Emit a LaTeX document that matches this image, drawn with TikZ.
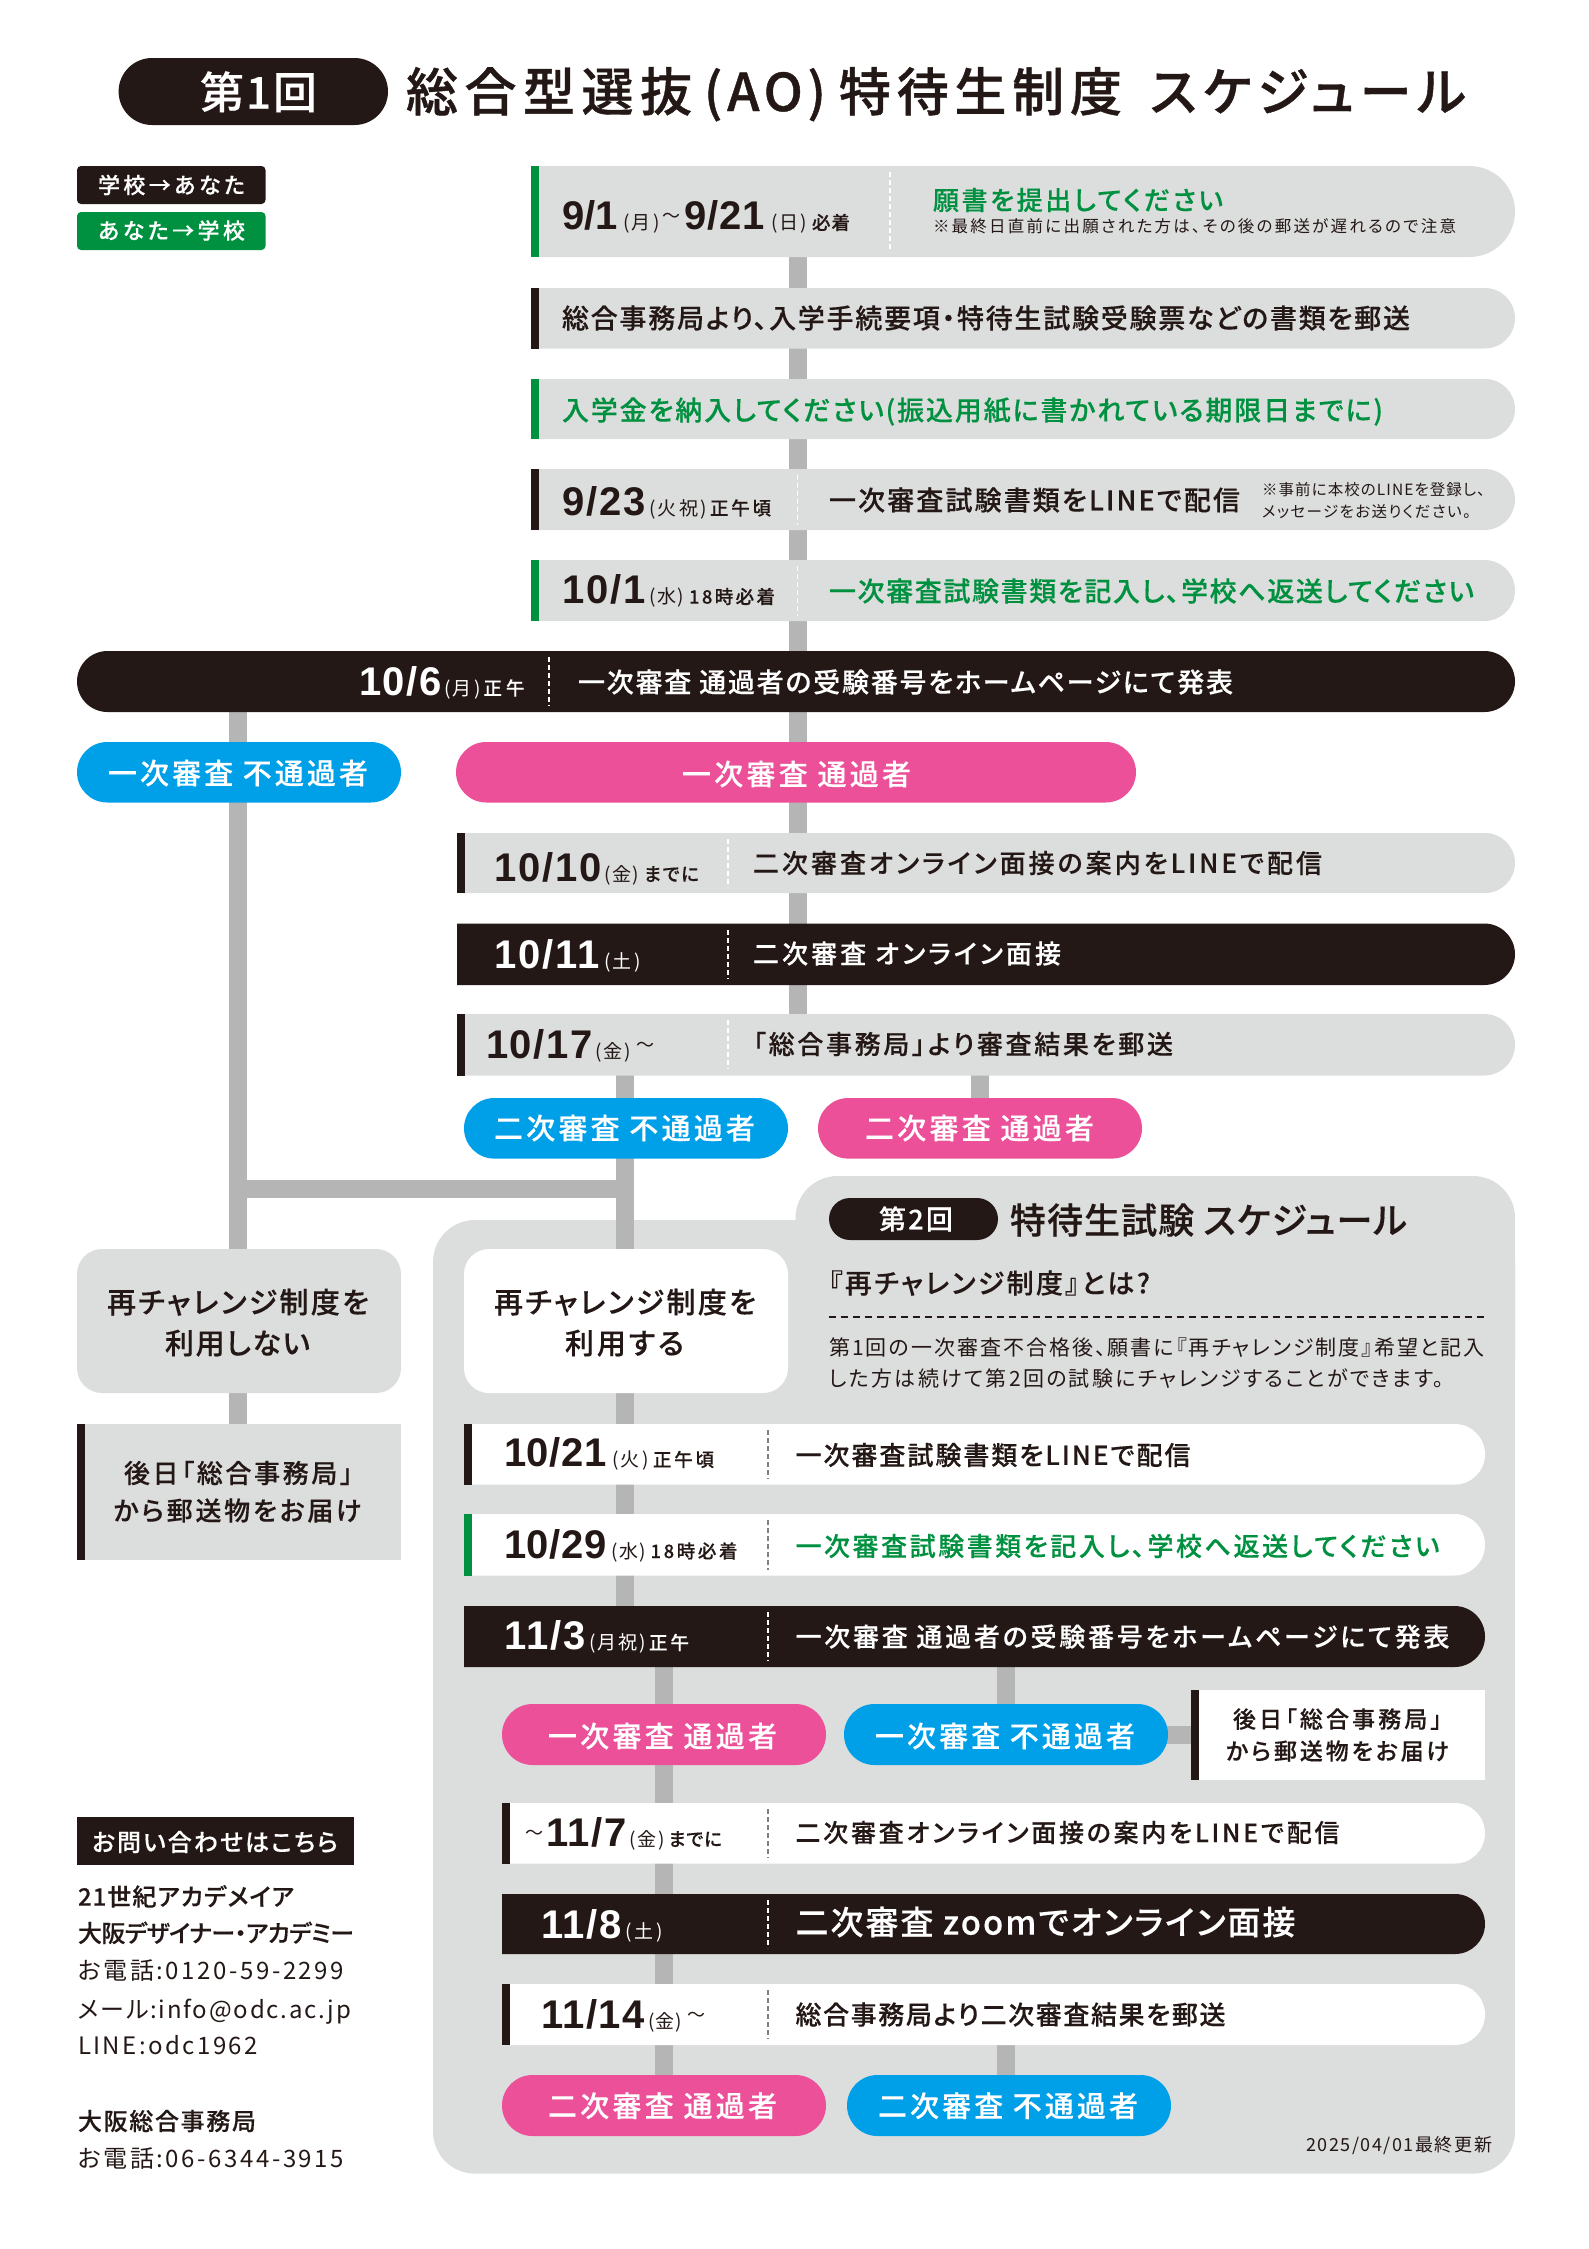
\documentclass[tikz,border=0pt]{standalone}
\usepackage{fontspec}
\setmainfont{Noto Sans CJK JP}[RawFeature=+palt]
\newfontfamily\jm{Noto Sans CJK JP Medium}[RawFeature=+palt,FakeBold=0.3]
\newfontfamily\jt{Noto Sans CJK JP Medium}[RawFeature=+palt,FakeBold=0.8]
\newfontfamily\dgf{Liberation Sans}
\usetikzlibrary{shapes.misc}
\pgfdeclarelayer{panelL}\pgfdeclarelayer{connL}\pgfsetlayers{panelL,connL,main}
\definecolor{ink}{HTML}{231815}\definecolor{gn}{HTML}{009140}\definecolor{gy}{HTML}{DCDDDD}
\definecolor{cn}{HTML}{B5B5B6}\definecolor{pk}{HTML}{EC5098}\definecolor{bl}{HTML}{00A0E9}
\definecolor{dv}{HTML}{808080}
\ExplSyntaxOn
\cs_new:Npn \mycount #1 { \tl_count:n {#1} }
\ExplSyntaxOff
\newcommand\fitx[3]{\begingroup\fontsize{#2}{#2}\selectfont
  \setbox0=\hbox{#3}\edef\wn{\the\wd0}\edef\cnt{\mycount{#3}}%
  \pgfmathsetmacro\lsv{max(-25,min(70,(#1-\wn)/max(1,\cnt-1)/#2*100))}%
  \addfontfeature{LetterSpace=\lsv}#3\endgroup}
\tikzset{
  rowshape/.style={rounded rectangle,rounded rectangle west arc=none,inner sep=0,outer sep=0},
  pillshape/.style={rounded rectangle,inner sep=0,outer sep=0},
  barshape/.style={rectangle,inner sep=0,outer sep=0,minimum width=8pt},
  softbox/.style={rectangle,inner sep=0,outer sep=0},
  txt/.style={inner sep=0,outer sep=0,anchor=base west},
  conn/.style={draw=cn,line width=18pt},
  sepline/.style={line width=1.2pt,white,dash pattern=on 5pt off 3pt},
  sepdark/.style={line width=1.2pt,dv,dash pattern=on 5pt off 3pt},
}
\newcommand\rowbox[7]{\node[rowshape,fill=#6,minimum width={(#4-#2)*1pt},minimum height={(#5-#3)*1pt}] (#1) at ({(#2+#4)/2},{(#3+#5)/2}) {};
  \node[barshape,fill=#7,anchor=north west,minimum height={(#5-#3)*1pt}] (#1bar) at (#2,#3) {};}
\newcommand\pill[6]{\node[pillshape,fill=#6,minimum width={(#4-#2)*1pt},minimum height={(#5-#3)*1pt}] (#1) at ({(#2+#4)/2},{(#3+#5)/2}) {};}
\newcommand\softb[7]{\node[softbox,fill=#6,rounded corners=#7,minimum width={(#4-#2)*1pt},minimum height={(#5-#3)*1pt}] (#1) at ({(#2+#4)/2},{(#3+#5)/2}) {};}
\newcommand\tx[7]{\node[txt,text=#6] (#1) at (#2,{#3+.38*#5}) {\jm\fitx{#4}{#5}{#7}};}
\newcommand\txr[7]{\node[txt,text=#6] (#1) at (#2,{#3+.38*#5}) {\fitx{#4}{#5}{#7}};}
\newcommand\dt[5]{\node[txt,text=#4] (#1) at (#2,#3) {#5};}
\newcommand\dbg[2]{{\dgf\bfseries\fitx{#1+2}{40}{#2}}\kern-1.5pt\relax}
\newcommand\dsm[2]{\fitx{#1}{19}{#2}}
\newcommand\dsb[2]{{\jm\fitx{#1}{18.5}{#2}}}
\newcommand\wv{\raisebox{7pt}{\fontsize{18}{18}\selectfont 〜}}
\newcommand\gp[1]{\kern#1pt\relax}
\newcommand\sepl[3]{\draw[sepline] (#1,#2) -- (#1,#3);}
\newcommand\sepd[3]{\draw[sepdark] (#1,#2) -- (#1,#3);}
\begin{document}
\begin{tikzpicture}[x=1pt,y=-1pt]
\useasboundingbox (0,0) rectangle (1589,2249);
% title
\pill{titlepill}{118.6}{58}{388}{125}{ink}
\tx{titlenum}{200}{92}{117}{44}{white}{第1回}
\node[txt,text=ink] (titlemain) at (406,111) {\jt\fitx{286}{52}{総合型選抜}\gp{12}\fitx{122}{52}{(AO)}\gp{13}\fitx{283}{52}{特待生制度}\gp{28}\fitx{316}{52}{スケジュール}};
% legend
\softb{legA}{77}{166}{265.5}{204}{ink}{4pt}
\softb{legB}{77}{212}{265.5}{250}{gn}{4pt}
\tx{legAt}{98}{185}{147}{22}{white}{学校→あなた}
\tx{legBt}{98}{230.5}{147}{22}{white}{あなた→学校}
% first block
\rowbox{rowA}{531}{166}{1515}{257}{gy}{gn}
\sepl{890}{172}{252}
\dt{rowAd}{562}{229.5}{ink}{\dbg{54}{9/1}\gp{7}\dsm{36}{(月)}\gp{3}\wv\gp{4}\dbg{78}{9/21}\gp{8}\dsm{36}{(日)}\gp{5}\dsb{38}{必着}}
\tx{rowAm}{933}{200}{290}{26}{gn}{願書を提出してください}
\txr{rowAs}{933}{226}{523}{16.5}{ink}{※最終日直前に出願された方は、その後の郵送が遅れるので注意}
\rowbox{rowB}{531}{288}{1515}{348.5}{gy}{ink}
\tx{rowBm}{562}{318}{848}{27}{ink}{総合事務局より、入学手続要項・特待生試験受験票などの書類を郵送}
\rowbox{rowC}{531}{379}{1515}{439}{gy}{gn}
\tx{rowCm}{562}{410}{821}{27}{gn}{入学金を納入してください(振込用紙に書かれている期限日までに)}
\rowbox{rowD}{531}{469}{1515}{530}{gy}{ink}
\sepl{797.5}{475}{525}
\dt{rowDd}{562}{515}{ink}{\dbg{82}{9/23}\gp{4.5}\dsm{58}{(火祝)}\gp{3}\dsb{61}{正午頃}}
\tx{rowDm}{829}{500}{411}{27}{ink}{一次審査試験書類をLINEで配信}
\txr{rowDn}{1262}{490}{223}{15.5}{ink}{※事前に本校のLINEを登録し、}
\txr{rowDo}{1262}{512}{209}{15.5}{ink}{メッセージをお送りください。}
\rowbox{rowE}{531}{560}{1515}{621}{gy}{gn}
\sepl{797.5}{566}{616}
\dt{rowEd}{562}{603.6}{ink}{\dbg{82}{10/1}\gp{4.5}\dsm{35}{(水)}\gp{5}\dsb{86}{18時必着}}
\tx{rowEm}{829}{591}{645}{27}{gn}{一次審査試験書類を記入し、学校へ返送してください}
\pill{rowF}{77}{651}{1515}{712}{ink}
\sepl{549}{657}{706}
\dt{rowFd}{359}{695}{white}{\dbg{81}{10/6}\gp{4}\dsm{36}{(月)}\gp{3}\dsb{41}{正午}}
\tx{rowFm}{578}{682}{655}{27}{white}{一次審査 通過者の受験番号をホームページにて発表}
% split
\pill{failA}{77}{742}{401}{802.5}{bl}
\tx{failAt}{108}{773}{260}{29}{white}{一次審査 不通過者}
\pill{passA}{456}{742}{1136}{802.5}{pk}
\tx{passAt}{682}{774}{229}{29}{white}{一次審査 通過者}
\rowbox{rowG}{457}{833}{1515}{893}{gy}{ink}
\sepl{728}{839}{887}
\dt{rowGd}{494}{881}{ink}{\dbg{106}{10/10}\gp{4}\dsm{34.5}{(金)}\gp{5}\dsb{55}{までに}}
\tx{rowGm}{753}{863}{569}{26}{ink}{二次審査オンライン面接の案内をLINEで配信}
\node[rowshape,fill=ink,minimum width=1058pt,minimum height=61.5pt] (rowH) at (986,954.25) {};
\sepl{728}{930}{979}
\dt{rowHd}{494}{968}{white}{\dbg{104}{10/11}\gp{6}\dsm{36}{(土)}}
\tx{rowHm}{753}{953.5}{308}{26}{white}{二次審査 オンライン面接}
\rowbox{rowI}{457}{1014}{1515}{1075.5}{gy}{ink}
\sepl{728}{1020}{1069}
\dt{rowId}{486}{1058.5}{ink}{\dbg{105}{10/17}\gp{4}\dsm{35}{(金)}\gp{6}\wv}
\tx{rowIm}{753}{1044}{420}{26}{ink}{「総合事務局」より審査結果を郵送}
\pill{failB}{464}{1098}{788}{1158.6}{bl}
\tx{failBt}{494}{1128}{261}{29}{white}{二次審査 不通過者}
\pill{passB}{818}{1098}{1142}{1158.6}{pk}
\tx{passBt}{865}{1128}{229}{29}{white}{二次審査 通過者}
% left column
\softb{noRe}{77}{1249}{401}{1393}{gy}{25pt}
\tx{noReA}{107}{1302}{262}{29}{ink}{再チャレンジ制度を}
\tx{noReB}{165}{1343}{145}{29}{ink}{利用しない}
\softb{mailL}{77}{1424}{401}{1560}{gy}{0pt}
\node[barshape,fill=ink,anchor=north west,minimum height=136pt] (mailLbar) at (77,1424) {};
\tx{mailLa}{124}{1473}{229}{26}{ink}{後日「総合事務局」}
\tx{mailLb}{113.5}{1510.5}{248}{26}{ink}{から郵送物をお届け}
% panel
\begin{pgfonlayer}{panelL}
\fill[gy,rounded corners=42pt] (433,1220) rectangle (1515,2173.6);
\fill[gy,rounded corners=42pt] (795.5,1176) rectangle (1515,1400);
\end{pgfonlayer}
\softb{yesRe}{464}{1249}{788}{1393}{white}{25pt}
\tx{yesReA}{494}{1302}{262}{29}{ink}{再チャレンジ制度を}
\tx{yesReB}{565}{1343}{119}{29}{ink}{利用する}
\pill{subpill}{829}{1198}{998}{1240}{ink}
\tx{subpillt}{879}{1219}{74}{27}{white}{第2回}
\tx{subtitle}{1010}{1220}{397}{36}{ink}{特待生試験 スケジュール}
\tx{whatq}{829}{1283}{321}{27}{ink}{『再チャレンジ制度』とは?}
\draw[ink,line width=1.3pt,dash pattern=on 7pt off 5pt] (829,1317) -- (1485,1317);
\txr{whatA}{829}{1348}{656}{21}{ink}{第1回の一次審査不合格後、願書に『再チャレンジ制度』希望と記入}
\txr{whatB}{829}{1379}{615}{21}{ink}{した方は続けて第2回の試験にチャレンジすることができます。}
\rowbox{rowJ}{464}{1424}{1485}{1484.5}{white}{ink}
\sepd{768}{1430}{1479}
\dt{rowJd}{504}{1466.5}{ink}{\dbg{101}{10/21}\gp{7}\dsm{36}{(火)}\gp{4.5}\dsb{61}{正午頃}}
\tx{rowJm}{795.5}{1455}{395}{26}{ink}{一次審査試験書類をLINEで配信}
\rowbox{rowK}{464}{1514}{1485}{1575.5}{white}{gn}
\sepd{768}{1520}{1570}
\dt{rowKd}{504}{1558}{ink}{\dbg{101}{10/29}\gp{6}\dsm{34.5}{(水)}\gp{4.5}\dsb{87}{18時必着}}
\tx{rowKm}{795.5}{1546}{644}{26}{gn}{一次審査試験書類を記入し、学校へ返送してください}
\node[rowshape,fill=ink,minimum width=1021pt,minimum height=61pt] (rowL) at (974.5,1636.5) {};
\sepl{768}{1612}{1661}
\dt{rowLd}{504}{1649.5}{white}{\dbg{80}{11/3}\gp{5}\dsm{56}{(月祝)}\gp{3.5}\dsb{40}{正午}}
\tx{rowLm}{795.5}{1636.6}{654}{26}{white}{一次審査 通過者の受験番号をホームページにて発表}
\pill{passC}{502}{1704}{826}{1765}{pk}
\tx{passCt}{548}{1736}{229}{29}{white}{一次審査 通過者}
\pill{failC}{844}{1704}{1168}{1765}{bl}
\tx{failCt}{875}{1736}{260}{29}{white}{一次審査 不通過者}
\softb{mailR}{1191}{1690}{1485}{1780}{white}{0pt}
\node[barshape,fill=ink,anchor=north west,minimum height=90pt] (mailRbar) at (1191,1690) {};
\tx{mailRa}{1233}{1719}{209}{23}{ink}{後日「総合事務局」}
\tx{mailRb}{1226}{1751}{223}{23}{ink}{から郵送物をお届け}
\rowbox{rowM}{502}{1803}{1485}{1863.5}{white}{ink}
\sepd{768}{1809}{1858}
\dt{rowMd}{525}{1846}{ink}{\wv\gp{3}\dbg{79}{11/7}\gp{4}\dsm{35}{(金)}\gp{4}\dsb{53.5}{までに}}
\tx{rowMm}{795.5}{1832.5}{544}{25}{ink}{二次審査オンライン面接の案内をLINEで配信}
\node[rowshape,fill=ink,minimum width=983pt,minimum height=60pt] (rowN) at (993.5,1924) {};
\sepl{768}{1900}{1948}
\dt{rowNd}{541}{1938}{white}{\dbg{79}{11/8}\gp{5}\dsm{37}{(土)}}
\tx{rowNm}{795.5}{1922}{500}{33}{white}{二次審査 zoomでオンライン面接}
\rowbox{rowO}{502}{1984}{1485}{2045}{white}{ink}
\sepd{768}{1990}{2039}
\dt{rowOd}{541}{2028}{ink}{\dbg{102}{11/14}\gp{5}\dsm{33}{(金)}\gp{6}\wv}
\tx{rowOm}{795.5}{2014.5}{430}{26}{ink}{総合事務局より二次審査結果を郵送}
\pill{passD}{502}{2075}{826}{2136}{pk}
\tx{passDt}{548}{2105.7}{229}{29}{white}{二次審査 通過者}
\pill{failD}{847}{2075}{1171}{2136}{bl}
\tx{failDt}{878}{2105.7}{260}{29}{white}{二次審査 不通過者}
\txr{stamp}{1306}{2145}{186}{18}{ink}{2025/04/01最終更新}
% contact
\softb{contact}{77}{1817}{354}{1865}{ink}{0pt}
\tx{contactt}{92}{1842}{246}{24}{white}{お問い合わせはこちら}
\tx{cA}{78}{1896.5}{216}{24}{ink}{21世紀アカデメイア}
\tx{cB}{78}{1933}{276}{24}{ink}{大阪デザイナー・アカデミー}
\txr{cC}{78}{1970.5}{266}{24}{ink}{お電話:0120-59-2299}
\txr{cD}{78}{2009}{273}{24}{ink}{メール:info@odc.ac.jp}
\txr{cE}{78}{2045.5}{180}{24}{ink}{LINE:odc1962}
\tx{cF}{78}{2121}{178}{24}{ink}{大阪総合事務局}
\txr{cG}{78}{2158}{266}{24}{ink}{お電話:06-6344-3915}
% connectors
\coordinate (tA) at (798,0);
\coordinate (tB) at (238,0);
\coordinate (tC) at (625,0);
\coordinate (tD) at (980,0);
\coordinate (tE) at (664,0);
\coordinate (tF) at (1006,0);
\coordinate (jn) at (625,1189);
\begin{pgfonlayer}{connL}
\foreach \a/\b in {rowA/rowB,rowB/rowC,rowC/rowD,rowD/rowE,rowE/rowF,rowF/passA,passA/rowG,rowG/rowH,rowH/rowI}
  \draw[conn] (\a.center -| tA) -- (\b.center -| tA);
\foreach \a/\b in {rowF/failA,failA/noRe,noRe/mailL}
  \draw[conn] (\a.center -| tB) -- (\b.center -| tB);
\foreach \a/\b in {rowI/failB,failB/yesRe,yesRe/rowJ,rowJ/rowK,rowK/rowL}
  \draw[conn] (\a.center -| tC) -- (\b.center -| tC);
\draw[conn] (rowI.center -| tD) -- (passB.center -| tD);
\draw[conn] (jn -| tB) -- (jn);
\foreach \a/\b in {rowL/passC,passC/rowM,rowM/rowN,rowN/rowO,rowO/passD}
  \draw[conn] (\a.center -| tE) -- (\b.center -| tE);
\draw[conn] (rowL.center -| tF) -- (failC.center -| tF);
\draw[conn] (rowO.center -| tF) -- (failD.center -| tF);
\draw[conn] (failC.center) -- (failC.center -| mailR.center);
\end{pgfonlayer}
\end{tikzpicture}
\end{document}
